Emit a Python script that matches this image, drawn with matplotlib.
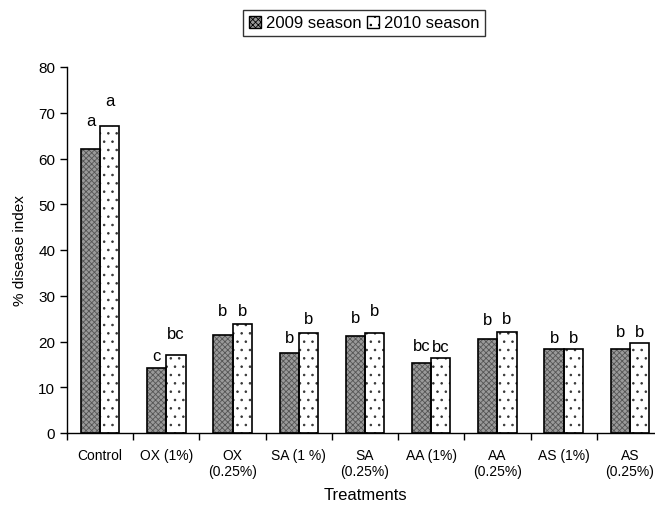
import numpy as np
import matplotlib
matplotlib.use("Agg")
import matplotlib.pyplot as plt
from matplotlib.patches import Patch

plt.rcParams['font.family'] = ['Liberation Sans', 'DejaVu Sans']

# Data
treatments = ["Control", "OX (1%)", "OX\n(0.25%)", "SA (1 %)", "SA\n(0.25%)",
              "AA (1%)", "AA\n(0.25%)", "AS (1%)", "AS\n(0.25%)"]
season_2009 = [62.0, 14.1, 21.5, 17.5, 21.1, 15.4, 20.6, 18.4, 18.4]
season_2010 = [67.0, 17.0, 23.9, 21.9, 21.9, 16.5, 22.1, 18.4, 19.7]
letters_2009 = ["a", "c", "b", "b", "b", "bc", "b", "b", "b"]
letters_2010 = ["a", "bc", "b", "b", "b", "bc", "b", "b", "b"]

# label height above bar top (pixels), as in the original figure
pad_2009 = [24, 8, 20, 11, 14, 13, 15, 7, 13]
pad_2010 = [21, 17, 9, 10, 18, 7, 9, 7, 7]

fig = plt.figure(figsize=(6.55, 5.06), dpi=100)
ax = fig.add_axes([67/655, 72/506, 596/655, 366/506])

x = np.arange(len(treatments))
w = 0.29

# 2009: dense grey texture, 2010: white with sparse dots
plt.rcParams['hatch.linewidth'] = 0.6
ax.bar(x - w/2, season_2009, w, facecolor='#9a9a9a', edgecolor='#555555',
       linewidth=0, hatch='xxxxxx', zorder=2)
ax.bar(x - w/2, season_2009, w, fill=False, edgecolor='black', linewidth=1.2, zorder=3)
ax.bar(x + w/2, season_2010, w, facecolor='white', edgecolor='#333333',
       linewidth=0, hatch='..', zorder=2)
ax.bar(x + w/2, season_2010, w, fill=False, edgecolor='black', linewidth=1.2, zorder=3)

for i in range(len(x)):
    ax.annotate(letters_2009[i], (x[i] - w/2, season_2009[i]),
                xytext=(0, pad_2009[i]*0.72), textcoords='offset points',
                ha='center', va='baseline', fontsize=12)
    ax.annotate(letters_2010[i], (x[i] + w/2, season_2010[i]),
                xytext=(0, pad_2010[i]*0.72), textcoords='offset points',
                ha='center', va='baseline', fontsize=12)

ax.set_xlim(-0.5, len(x) - 0.5)
ax.set_ylim(0, 80)
ax.set_yticks(np.arange(0, 81, 10))
ax.tick_params(axis='y', direction='out', length=5, labelsize=11, width=1)

ax.set_xticks(np.arange(-0.5, len(x), 1.0))
ax.set_xticklabels([])
ax.tick_params(axis='x', which='major', direction='out', length=5, width=1)
ax.set_xticks(x, minor=True)
ax.set_xticklabels(treatments, minor=True, fontsize=10)
ax.tick_params(axis='x', which='minor', length=0, pad=11)

for s in ['top', 'right']:
    ax.spines[s].set_visible(False)
for s in ['left', 'bottom']:
    ax.spines[s].set_linewidth(1)

ax.set_ylabel("% disease index", fontsize=11, labelpad=8)
ax.set_xlabel("Treatments", fontsize=12, labelpad=6)

handles = [Patch(facecolor='#9a9a9a', edgecolor='black', hatch='xxxxxx'),
           Patch(facecolor='white', edgecolor='black', hatch='..')]
leg = fig.legend(handles, ["2009 season", "2010 season"], loc='upper center',
                 bbox_to_anchor=(364/655, 1 - 11/506), ncol=2, fontsize=12,
                 frameon=True, fancybox=False, edgecolor='black',
                 handlelength=0.7, handleheight=0.7, handletextpad=0.3,
                 columnspacing=0.35, borderpad=0.33, borderaxespad=0)
leg.get_frame().set_linewidth(1)

fig.savefig("out.png", dpi=100)
